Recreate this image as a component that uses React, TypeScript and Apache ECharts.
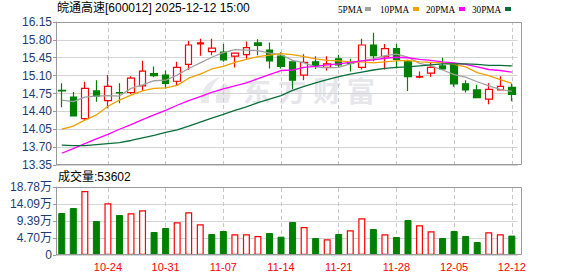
import React, { useEffect, useRef } from 'react';
import * as echarts from 'echarts';

const dates = ['10-20','10-21','10-22','10-23','10-24','10-27','10-28','10-29','10-30','10-31','11-03','11-04','11-05','11-06','11-07','11-10','11-11','11-12','11-13','11-14','11-17','11-18','11-19','11-20','11-21','11-24','11-25','11-26','11-27','11-28','12-01','12-02','12-03','12-04','12-05','12-08','12-09','12-10','12-11','12-12'];
const labelDates = ['10-24','10-31','11-07','11-14','11-21','11-28','12-05','12-12'];

const opens  = [14.81,14.68,14.26,14.80,14.61,14.77,14.77,14.90,15.14,15.11,14.99,15.32,15.72,15.57,15.56,15.48,15.51,15.74,15.60,15.48,15.37,15.11,15.37,15.26,15.43,15.35,15.26,15.70,15.47,15.63,15.37,15.07,15.15,15.29,15.32,14.94,14.82,14.64,14.82,14.87];
const closes = [14.80,14.31,14.85,14.70,14.89,14.76,15.05,15.19,15.10,14.95,15.26,15.70,15.74,15.64,15.41,15.54,15.65,15.69,15.39,15.28,15.01,15.36,15.29,15.33,15.31,15.34,15.70,15.49,15.63,15.42,15.08,15.08,15.26,15.23,14.94,14.82,14.67,14.83,14.89,14.73];
const lows   = [14.48,14.30,14.23,14.59,14.46,14.56,14.74,14.80,15.07,14.85,14.90,15.21,15.49,15.50,15.37,15.26,15.43,15.50,15.24,15.24,14.84,15.01,15.23,15.20,15.26,15.18,15.22,15.38,15.22,15.24,14.80,15.05,15.08,15.21,14.88,14.77,14.67,14.54,14.81,14.60];
const highs  = [14.95,14.78,14.98,15.01,15.11,14.95,15.09,15.39,15.28,15.20,15.37,15.78,15.82,15.82,15.72,15.55,15.77,15.81,15.75,15.56,15.38,15.52,15.48,15.48,15.51,15.43,15.82,15.94,15.72,15.72,15.41,15.18,15.37,15.45,15.35,15.01,14.92,14.95,15.09,14.94];

const ma5  = [14.62,14.59,14.68,14.70,14.71,14.70,14.85,14.92,15.00,15.01,15.11,15.24,15.35,15.46,15.55,15.61,15.60,15.59,15.54,15.51,15.40,15.35,15.27,15.25,15.26,15.33,15.39,15.43,15.49,15.52,15.46,15.34,15.29,15.21,15.12,15.07,14.98,14.90,14.83,14.79];
const ma10 = [14.05,14.11,14.23,14.33,14.50,14.62,14.72,14.80,14.85,14.86,14.91,15.05,15.13,15.23,15.28,15.36,15.42,15.47,15.50,15.53,15.51,15.47,15.43,15.40,15.39,15.37,15.37,15.35,15.37,15.39,15.40,15.37,15.36,15.35,15.32,15.27,15.16,15.10,15.02,14.95];
const ma20 = [13.58,13.67,13.77,13.86,13.95,14.05,14.14,14.24,14.33,14.42,14.52,14.61,14.69,14.77,14.84,14.90,14.96,15.04,15.12,15.20,15.21,15.26,15.28,15.31,15.33,15.36,15.39,15.41,15.44,15.46,15.45,15.42,15.40,15.37,15.35,15.32,15.27,15.22,15.20,15.17];
const ma30 = [13.74,13.73,13.73,13.75,13.77,13.79,13.83,13.88,13.93,13.99,14.04,14.11,14.19,14.27,14.34,14.42,14.49,14.57,14.64,14.71,14.81,14.89,14.96,15.02,15.08,15.13,15.17,15.21,15.24,15.26,15.27,15.29,15.31,15.33,15.33,15.33,15.32,15.30,15.30,15.29];

const volumes = [116000,129800,176800,93900,142700,110500,115100,123400,63500,74600,90200,117800,84700,58000,66300,57100,57100,52500,60800,50600,91100,77300,46950,43300,58000,68100,101300,71800,57100,49700,96700,81900,65400,46950,66300,52500,35900,62600,57100,53602];
const volUp = [false,false,true,false,true,false,true,true,false,false,true,true,true,false,false,true,true,true,false,false,false,true,false,true,false,true,true,false,true,false,false,true,true,false,false,false,false,true,true,false];

const priceTicks = { min: 13.35, max: 16.15, step: 0.35 };
const volTicks = { min: 0, max: 187840, step: 46960 };

const titleText = '皖通高速[600012] 2025-12-12 15:00';
const volTitle = '成交量:53602';
const legendNames = ['5PMA', '10PMA', '20PMA', '30PMA'];
const maColors = ['#a0a0a0', '#f0a000', '#ff00ff', '#0a6e3a'];
const watermarkChars = ['东', '方', '财', '富'];

const RED = '#ff0000';
const GREEN = '#008000';
const LABEL_BLUE = '#1e3c74';
const SANS = "'Liberation Sans', 'Noto Sans CJK SC', sans-serif";

export default function App() {
  const ref = useRef<HTMLDivElement>(null);
  useEffect(() => {
    if (!ref.current) return;
    echarts.graphic.registerShape(
      'emLogo',
      echarts.graphic.extendPath(
        'M22 0 C10 4 2 12 3 26 L11 26 C10 16 14 8 22 0 Z M27 6 C20 11 17 18 18 26 L30 26 C34 18 33 11 27 6 Z',
        {}
      ) as any
    );
    const chart = echarts.init(ref.current, null, { renderer: 'svg' });
    const plotLeft = 56;
    const plotW = 461.6;
    const candle = dates.map((_, i) => [opens[i], closes[i], lows[i], highs[i]]);
    const vlines = (color: string) => ({
      silent: true,
      symbol: ['none', 'none'],
      z: 1,
      label: { show: false },
      emphasis: { disabled: true },
      lineStyle: { color, type: [4, 3], width: 1 },
      data: labelDates.map((d) => ({ xAxis: d })),
    });
    const mas = [ma5, ma10, ma20, ma30];
    const legendX = [338, 380, 426, 472];
    const squareX = [365, 413, 459, 505];
    const graphics: any[] = [
      { type: 'text', x: 57, y: 8, style: { text: titleText, fontSize: 12, fontFamily: SANS, fill: '#000', align: 'left', verticalAlign: 'middle' } },
      { type: 'text', x: 58, y: 177, style: { text: volTitle, fontSize: 12, fontFamily: SANS, fill: '#000', align: 'left', verticalAlign: 'middle' } },
      { type: 'rect', z: 10, shape: { x: 56.5, y: 22.5, width: 465, height: 142 }, style: { fill: 'none', stroke: '#999', lineWidth: 1 } },
      { type: 'rect', z: 10, shape: { x: 56.5, y: 187.5, width: 465, height: 67 }, style: { fill: 'none', stroke: '#999', lineWidth: 1 } },
      { type: 'emLogo', x: 198, y: 77, scaleX: 1, scaleY: 1, z: -1, style: { fill: '#e8e8ed' } },
    ];
    legendNames.forEach((n, k) => {
      graphics.push({ type: 'text', x: legendX[k], y: 9, scaleX: 0.84, style: { text: n, fontSize: 11, fontFamily: "'Liberation Serif', serif", fill: '#000', align: 'left', verticalAlign: 'middle' } });
      graphics.push({ type: 'rect', shape: { x: squareX[k], y: 7, width: 6, height: 4 }, style: { fill: maColors[k] } });
    });
    const wmX = [257, 292, 327, 361];
    watermarkChars.forEach((c, k) => {
      graphics.push({ type: 'text', x: wmX[k], y: 90, z: -1, style: { text: c, fontSize: 28, fontWeight: 'bold', fontFamily: "'Noto Sans CJK SC', sans-serif", fill: '#e6e6eb', align: 'center', verticalAlign: 'middle' } });
    });

    chart.setOption({
      animation: false,
      backgroundColor: '#ffffff',
      grid: [
        { left: plotLeft, top: 22, width: plotW, height: 143, show: false },
        { left: plotLeft, top: 187, width: plotW, height: 68, show: false },
      ],
      xAxis: [
        { type: 'category', data: dates, gridIndex: 0, boundaryGap: true, axisLine: { show: false }, axisTick: { show: false }, axisLabel: { show: false }, splitLine: { show: false } },
        {
          type: 'category', data: dates, gridIndex: 1, boundaryGap: true,
          axisLine: { show: false }, axisTick: { show: false }, splitLine: { show: false },
          axisLabel: { show: true, interval: (i: number) => i % 5 === 4, color: RED, fontSize: 11, fontFamily: SANS, margin: 6 },
        },
      ],
      yAxis: [
        {
          type: 'value', gridIndex: 0, min: priceTicks.min, max: priceTicks.max, interval: priceTicks.step,
          axisLine: { show: true, lineStyle: { color: '#999' } },
          axisTick: { show: true, length: 3, lineStyle: { color: '#999' } },
          axisLabel: { color: LABEL_BLUE, fontSize: 12, fontFamily: SANS, margin: 4, formatter: (v: number) => v.toFixed(2) },
          splitLine: { show: true, lineStyle: { color: '#d4d4d4', width: 1 } },
        },
        {
          type: 'value', gridIndex: 1, min: volTicks.min, max: volTicks.max, interval: volTicks.step,
          axisLine: { show: true, lineStyle: { color: '#999' } },
          axisTick: { show: true, length: 3, lineStyle: { color: '#999' } },
          axisLabel: { color: LABEL_BLUE, fontSize: 12, fontFamily: SANS, margin: 4, formatter: (v: number) => (v === 0 ? '0' : (v / 10000).toFixed(2) + '万') },
          splitLine: { show: true, lineStyle: { color: '#d4d4d4', width: 1 } },
        },
      ],
      series: [
        {
          type: 'candlestick', xAxisIndex: 0, yAxisIndex: 0, data: candle, barWidth: 7,
          itemStyle: { color: '#ffffff', color0: GREEN, borderColor: RED, borderColor0: GREEN, borderWidth: 1.2 },
          markLine: vlines('#c8c8c8'),
        },
        ...mas.map((d, k) => ({
          name: legendNames[k], type: 'line', xAxisIndex: 0, yAxisIndex: 0, data: d,
          showSymbol: false, symbol: 'none', z: 3,
          lineStyle: { color: maColors[k], width: 1.3 },
        })),
        {
          type: 'bar', xAxisIndex: 1, yAxisIndex: 1, barWidth: 7,
          data: volumes.map((v, i) => ({
            value: v,
            itemStyle: volUp[i]
              ? { color: '#ffffff', borderColor: RED, borderWidth: 1.2 }
              : { color: GREEN, borderColor: GREEN, borderWidth: 1 },
          })),
          markLine: vlines('#c8c8c8'),
        },
      ],
      graphic: graphics,
    } as any);
    return () => chart.dispose();
  }, []);
  return <div ref={ref} style={{ position: 'fixed', left: 0, top: 0, width: 578, height: 276, background: '#fff' }} />;
}
